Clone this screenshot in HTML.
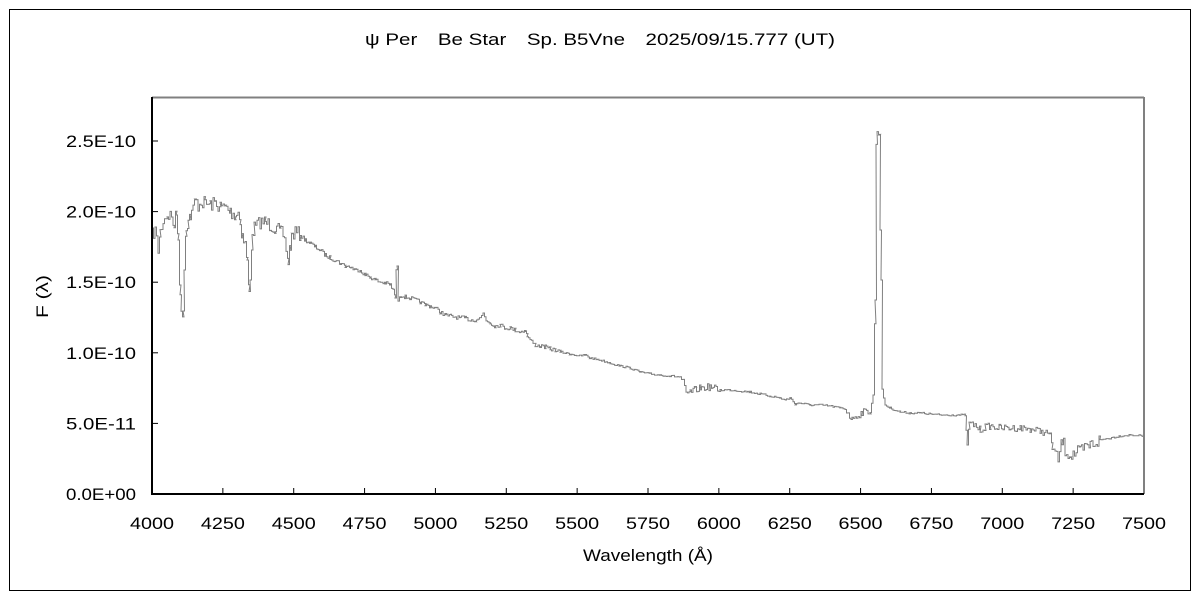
<!DOCTYPE html>
<html><head><meta charset="utf-8"><style>
html,body{margin:0;padding:0;background:#fff;}
svg{display:block;font-family:"Liberation Sans","Noto Sans CJK JP",sans-serif;}
</style></head><body>
<svg id="s" width="1200" height="600" xmlns="http://www.w3.org/2000/svg">
<rect x="9.5" y="9.5" width="1181" height="581" fill="#fff" stroke="#000" stroke-width="1"/>
<text x="365" y="45" font-size="17" textLength="470" lengthAdjust="spacingAndGlyphs" fill="#000">ψ Per　Be Star　Sp. B5Vne　2025/09/15.777 (UT)</text>
<line x1="152" y1="97.5" x2="1144" y2="97.5" stroke="#808080" stroke-width="2"/>
<line x1="1144" y1="97" x2="1144" y2="494" stroke="#808080" stroke-width="2"/>
<g id="ticks" stroke="#000" stroke-width="1"></g>
<polyline id="sp" fill="none" stroke="#808080" stroke-width="1" points=""/>
<line x1="152" y1="97" x2="152" y2="495" stroke="#000" stroke-width="2"/>
<line x1="151" y1="494" x2="1144" y2="494" stroke="#000" stroke-width="2"/>
<g id="lab" font-size="17" fill="#000"></g>
<text x="583" y="561" font-size="17" textLength="130" lengthAdjust="spacingAndGlyphs">Wavelength (Å)</text>
<text transform="translate(48,318) rotate(-90)" font-size="17" textLength="43" lengthAdjust="spacingAndGlyphs">F (λ)</text>
</svg>
<script>
var ns="http://www.w3.org/2000/svg",t=document.getElementById('ticks'),l=document.getElementById('lab');
function el(p,n,a,tx){var e=document.createElementNS(ns,n);for(var k in a)e.setAttribute(k,a[k]);if(tx)e.textContent=tx;p.appendChild(e);}
var yl=["0.0E+00","5.0E-11","1.0E-10","1.5E-10","2.0E-10","2.5E-10"];
for(var i=0;i<6;i++){var y=494-i*70.6;el(t,'line',{x1:152,x2:158,y1:y,y2:y});el(l,'text',{x:66,y:y+6,textLength:70,lengthAdjust:'spacingAndGlyphs'},yl[i]);}
for(var i=0;i<=14;i++){var x=152+i*992/14;if(i>0&&i<14)el(t,'line',{x1:x,x2:x,y1:488,y2:494});el(l,'text',{x:x-22,y:529,textLength:44,lengthAdjust:'spacingAndGlyphs'},String(4000+250*i));}
var P=[152,235,155,230,158,250,160,232,163,220,167,215,170,215,174,225,176,215,178,240,180,300,181,311,183,311,184,270,186,225,188,222,190,215,193,210,195,200,198,205,201,202,205,203,210,205,215,203,220,207,225,207,230,212,235,215,238,212,240,222,242,235,245,245,247,260,249,293,250,280,252,240,254,228,257,225,260,222,265,222,270,225,275,228,280,232,283,235,286,248,288,262,290,245,292,235,295,232,300,235,305,240,310,243,315,247,320,250,325,255,330,258,335,260,340,263,345,266,350,267,355,270,360,270,365,275,370,277,375,280,380,282,385,283,390,285,393,290,395,298,396,270,397,266,398,300,400,295,405,297,410,298,415,300,420,302,425,305,430,306,435,308,440,312,445,315,450,316,455,317,460,318,465,318,470,320,475,320,480,318,483,313,486,320,490,323,495,326,500,325,505,328,510,328,515,330,520,332,525,330,527,336,530,340,535,345,540,346,545,347,550,349,555,350,560,352,565,353,570,354,575,355,580,356,585,355,590,358,600,360,610,363,620,366,630,368,640,372,650,374,660,375,670,376,680,377,683,382,686,395,690,392,695,390,700,388,710,387,720,390,730,390,740,391,750,392,760,394,770,396,780,398,785,400,790,398,795,404,800,403,810,405,820,405,830,406,840,408,845,409,848,413,852,420,855,415,858,416,862,412,865,412,870,411,873,395,875,300,876,145,877,131,879,135,880,230,881,280,882,390,885,405,890,408,900,412,910,413,920,413,940,415,965,415,966,433,967,445,969,424,975,425,980,430,985,427,990,426,1000,428,1010,428,1020,428,1030,429,1040,431,1050,434,1052,445,1055,455,1058,460,1062,440,1065,450,1070,455,1080,452,1090,445,1100,440,1110,438,1120,436,1130,435,1144,436];
var seed=7;function r(){seed=(seed*16807)%2147483647;return seed/2147483647-0.5;}
var out=[];
for(var i=0;i<P.length-2;i+=2){var x0=P[i],y0=P[i+1],x1=P[i+2],y1=P[i+3];
 for(var x=x0;x<x1;x+=1.5){var f=(x-x0)/(x1-x0),y=y0+(y1-y0)*f;
  var amp=(x<300)?14:((x>1050&&x<1100))?14:((x>965&&x<1050)||(x>680&&x<720)||(x>845&&x<872))?7:(x<560)?4:2;
  if(Math.abs(y1-y0)>20)amp=0;
  var yy=(y+r()*amp).toFixed(1);out.push(x.toFixed(1)+","+yy);out.push((x+1.5).toFixed(1)+","+yy);}}
out.push("1144,436");
document.getElementById('sp').setAttribute('points',out.join(' '));
</script>
</body></html>
